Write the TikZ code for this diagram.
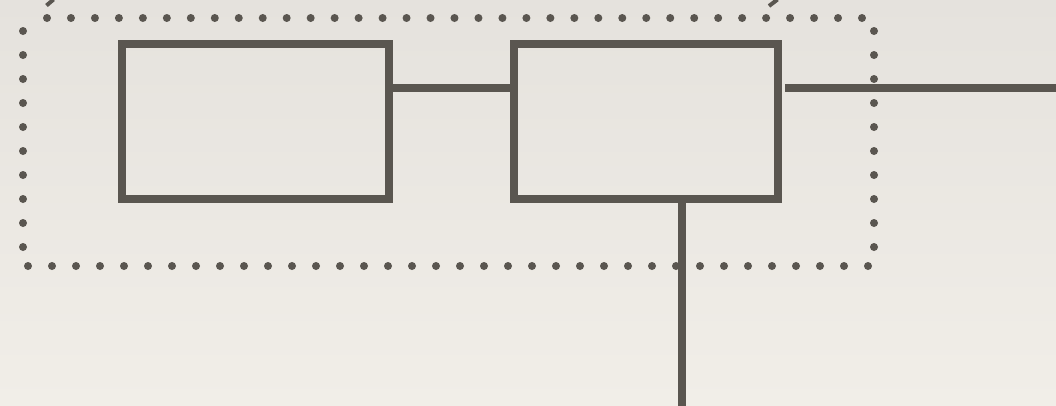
\documentclass[tikz,border=0pt]{standalone}
\begin{document}
\begin{tikzpicture}[x=1pt,y=-1pt,
  ink/.style={draw=inkc,line width=8pt},
  boxnode/.style={ink,inner sep=0pt,outer sep=0pt},
  dotc/.style={fill=inkc,draw=none},
]
\definecolor{inkc}{HTML}{5A5650}
\definecolor{bgtop}{HTML}{E5E2DD}
\definecolor{bgbot}{HTML}{F1EEE8}
\shade[top color=bgtop,bottom color=bgbot] (0,0) rectangle (1056,405);
\useasboundingbox (0,0) rectangle (1056,405);
% dotted frame
\foreach \i in {0,...,34} \fill[dotc] ({47+\i*23.97},18) circle (4);
\foreach \i in {0,...,9} \fill[dotc] (23,{31+\i*24}) circle (4);
\foreach \i in {0,...,9} \fill[dotc] (874,{31+\i*24}) circle (4);
\foreach \i in {0,...,35} \fill[dotc] ({28+\i*24},266) circle (4);
% small cut strokes at top
\draw[inkc,line width=4pt] (46.5,5.5) -- (53.5,-0.5);
\draw[inkc,line width=4pt] (769,6) -- (777.5,-0.5);
% boxes
\node[boxnode,minimum width=267pt,minimum height=155pt] (b1) at (255.5,121.5) {};
\node[boxnode,minimum width=264pt,minimum height=155pt] (b2) at (646,121.5) {};
\coordinate (rend) at (1060,87.5);
\coordinate (bend) at (682,410);
\draw[ink] ([yshift=34pt]b1.east) -- ([yshift=34pt]b2.west);
\draw[ink] ([xshift=7pt,yshift=34pt]b2.east) -- (rend);
\draw[ink] ([xshift=36pt]b2.south) -- (bend);
\end{tikzpicture}
\end{document}
